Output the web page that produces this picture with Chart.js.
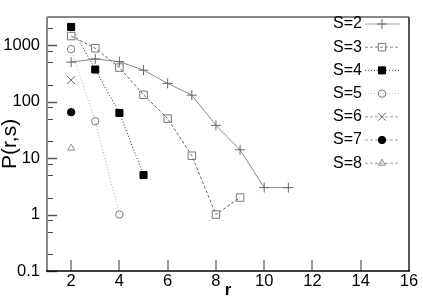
<!DOCTYPE html>
<html>
<head>
<meta charset="utf-8">
<script src="https://cdn.jsdelivr.net/npm/chart.js@4.4.1/dist/chart.umd.min.js"></script>
<style>
  html, body { margin: 0; padding: 0; background: #fff; }
  canvas { display: block; }
</style>
</head>
<body>
<canvas id="pChart" width="423" height="296"></canvas>
<script>
// values (log scale)
const seriesNames = ['S=2', 'S=3', 'S=4', 'S=5', 'S=6', 'S=7', 'S=8'];

const rS2 = [2, 3, 4, 5, 6, 7, 8, 9, 10, 11];
const pS2 = [500, 570, 510, 360, 210, 130, 38, 14, 3, 3];

const rS3 = [2, 3, 4, 5, 6, 7, 8, 9];
const pS3 = [1450, 880, 400, 132, 50, 11, 1, 2];

const rS4 = [2, 3, 4, 5];
const pS4 = [2100, 370, 63, 5];

const rS5 = [2, 3, 4];
const pS5 = [850, 45, 1];

const rS6 = [2];
const pS6 = [240];

const rS7 = [2];
const pS7 = [65];

const rS8 = [2];
const pS8 = [15];

const xTicks = [2, 4, 6, 8, 10, 12, 14, 16];
const yMajor = [0.1, 1, 10, 100, 1000];
const yMinor = [0.2, 0.5, 0.8, 2, 5, 8, 20, 50, 80, 200, 500, 800, 2000];

const toPoints = (xs, ys) => xs.map((r, i) => ({ x: r, y: ys[i] }));

Chart.defaults.font.family = "'Liberation Sans', Arial, Helvetica, sans-serif";
Chart.defaults.color = '#000';

const datasets = [
  { label: seriesNames[0], data: toPoints(rS2, pS2), borderColor: '#888', borderDash: [],
    pointStyle: 'cross', pointRadius: 5, pointBorderColor: '#666', pointBackgroundColor: 'transparent' },
  { label: seriesNames[1], data: toPoints(rS3, pS3), borderColor: '#666', borderDash: [3, 2],
    pointStyle: 'rect', pointRadius: 5.3, pointBorderColor: '#777', pointBackgroundColor: 'transparent' },
  { label: seriesNames[2], data: toPoints(rS4, pS4), borderColor: '#222', borderDash: [1, 2],
    pointStyle: 'rect', pointRadius: 5, pointBorderColor: '#000', pointBackgroundColor: '#000' },
  { label: seriesNames[3], data: toPoints(rS5, pS5), borderColor: '#aaa', borderDash: [1, 2],
    pointStyle: 'circle', pointRadius: 3.7, pointBorderColor: '#777', pointBackgroundColor: 'transparent' },
  { label: seriesNames[4], data: toPoints(rS6, pS6), borderColor: '#888', borderDash: [3, 2],
    pointStyle: 'crossRot', pointRadius: 5.5, pointBorderColor: '#666', pointBackgroundColor: 'transparent' },
  { label: seriesNames[5], data: toPoints(rS7, pS7), borderColor: '#888', borderDash: [3, 2],
    pointStyle: 'circle', pointRadius: 3.7, pointBorderColor: '#000', pointBackgroundColor: '#000' },
  { label: seriesNames[6], data: toPoints(rS8, pS8), borderColor: '#888', borderDash: [3, 2],
    pointStyle: 'triangle', pointRadius: 4, pointBorderColor: '#888', pointBackgroundColor: 'transparent' }
].map(d => Object.assign({ borderWidth: 1, pointBorderWidth: 1, tension: 0, fill: false }, d));

function line(ctx, x1, y1, x2, y2) {
  ctx.beginPath();
  ctx.moveTo(x1, y1);
  ctx.lineTo(x2, y2);
  ctx.stroke();
}

// box around the plot plus inward tick marks
const frameTicks = {
  id: 'frameTicks',
  beforeDatasetsDraw(chart) {
    const { ctx, chartArea: a, scales: { x, y } } = chart;
    ctx.save();
    ctx.strokeStyle = '#999';
    ctx.lineWidth = 2;
    xTicks.forEach(v => {
      if (v >= 16) return;
      const px = Math.round(x.getPixelForValue(v));
      line(ctx, px, a.bottom, px, a.bottom - 11);
    });
    ctx.strokeStyle = '#555';
    ctx.lineWidth = 1.5;
    yMajor.forEach(v => {
      const py = Math.round(y.getPixelForValue(v)) + 0.5;
      line(ctx, a.left, py, a.left + 10, py);
    });
    ctx.strokeStyle = '#444';
    ctx.lineWidth = 1;
    yMinor.forEach(v => {
      const py = Math.round(y.getPixelForValue(v)) + 0.5;
      line(ctx, a.left, py, a.left + 6, py);
    });
    ctx.lineWidth = 2;
    ctx.strokeStyle = '#888';
    line(ctx, a.left, a.top, a.right, a.top);
    line(ctx, a.left, a.top, a.left, a.bottom);
    ctx.strokeStyle = '#555';
    line(ctx, a.right, a.top, a.right, a.bottom);
    ctx.strokeStyle = '#000';
    ctx.lineWidth = 1.5;
    line(ctx, a.left - 1, a.bottom, a.right + 1, a.bottom);
    ctx.restore();
  }
};

// legend with the text first and the sample after it
const sideLegend = {
  id: 'sideLegend',
  afterDraw(chart) {
    const ctx = chart.ctx;
    ctx.save();
    ctx.font = "16px 'Liberation Sans', Arial, sans-serif";
    ctx.textAlign = 'right';
    ctx.textBaseline = 'middle';
    chart.data.datasets.forEach((ds, i) => {
      const yy = 24 + i * 23.2;
      ctx.fillStyle = '#000';
      ctx.fillText(ds.label, 362, yy);
      ctx.strokeStyle = ds.borderColor;
      ctx.lineWidth = 0.8;
      ctx.setLineDash(ds.borderDash);
      line(ctx, 365, yy, 400, yy);
      ctx.setLineDash([]);
      ctx.strokeStyle = ds.pointBorderColor;
      ctx.fillStyle = ds.pointBackgroundColor;
      ctx.lineWidth = 1;
      Chart.helpers.drawPoint(ctx, { pointStyle: ds.pointStyle, radius: ds.pointRadius, rotation: 0, borderWidth: 1 }, 382, yy);
    });
    ctx.restore();
  }
};

new Chart(document.getElementById('pChart'), {
  type: 'line',
  data: { datasets },
  options: {
    responsive: false,
    animation: false,
    devicePixelRatio: 1,
    layout: { padding: { top: 11, right: 14, left: 0, bottom: 0 } },
    plugins: { legend: { display: false }, tooltip: { enabled: false } },
    scales: {
      x: {
        type: 'linear',
        min: 1,
        max: 16,
        grid: { display: false, drawTicks: false },
        border: { display: false },
        afterBuildTicks: (s) => { s.ticks = xTicks.map(v => ({ value: v })); },
        afterFit: (s) => { s.height = 25; },
        ticks: { autoSkip: false, maxRotation: 0, padding: 1, font: { size: 16.5 } },
        title: { display: true, text: 'r', font: { size: 17, weight: 'bold', lineHeight: 0.7 }, padding: 0 }
      },
      y: {
        type: 'logarithmic',
        min: 0.1,
        max: 3162.28,
        grid: { display: false, drawTicks: false },
        border: { display: false },
        afterBuildTicks: (s) => { s.ticks = yMajor.map(v => ({ value: v })); },
        afterFit: (s) => { s.width = 47; },
        ticks: { padding: 7, font: { size: 16.5 }, callback: (v) => String(v) },
        title: { display: true, text: 'P(r,s)', font: { size: 21, lineHeight: 1 }, padding: 0 }
      }
    }
  },
  plugins: [frameTicks, sideLegend]
});
</script>
</body>
</html>
